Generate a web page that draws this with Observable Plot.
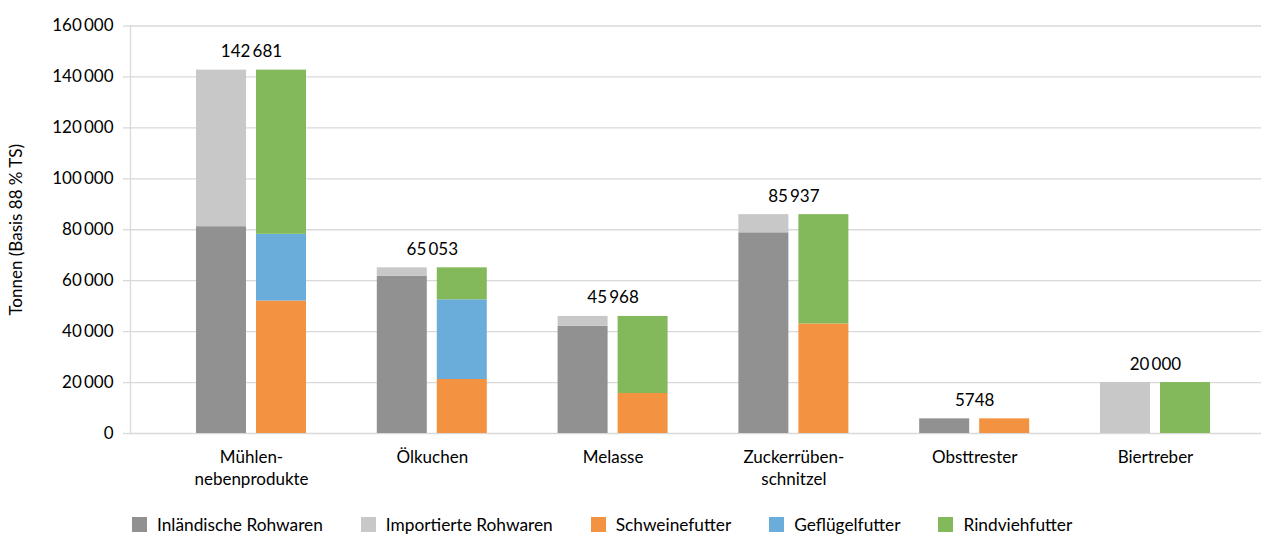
<!DOCTYPE html>
<html>
<head>
<meta charset="utf-8">
<script src="https://cdn.jsdelivr.net/npm/d3@7"></script>
<script src="https://cdn.jsdelivr.net/npm/@observablehq/plot@0.6"></script>
<style>
  body { margin: 0; background: #fff; font-family: Lato, "Open Sans", sans-serif; }
  #chart svg { display: block; }
  .legend { display: flex; align-items: center; padding-left: 132px; padding-top: 10px; height: 19px; font-size: 17.3px; color: #000; }
  .legend .item { display: flex; align-items: center; margin-right: 38px; }
  .legend .sw { width: 15px; height: 15px; margin-right: 10px; }
</style>
</head>
<body>
<div id="chart"></div>
<script>
const categories = ["Mühlen-\nnebenprodukte", "Ölkuchen", "Melasse", "Zuckerrüben-\nschnitzel", "Obsttrester", "Biertreber"];
const totals     = [142681, 65053, 45968, 85937, 5748, 20000];
// Herkunft (left bar)
const inlaendisch = [81200, 61800, 42100, 78800, 5748, 0];
const importiert  = [61481, 3253, 3868, 7137, 0, 20000];
// Verwendung (right bar)
const schwein     = [52000, 21200, 15700, 43000, 5748, 0];
const gefluegel   = [26200, 31300, 0, 0, 0, 0];
const rind        = [64481, 12553, 30268, 42937, 0, 20000];

const seriesNames  = ["Inländische Rohwaren", "Importierte Rohwaren", "Schweinefutter", "Geflügelfutter", "Rindviehfutter"];
const seriesColors = ["#919191", "#c8c8c8", "#f39240", "#6aacda", "#83b95b"];
const yTicks = [0, 20000, 40000, 60000, 80000, 100000, 120000, 140000, 160000];

const fmt = v => {
  const s = String(Math.round(v));
  if (v < 10000) return s;
  return s.replace(/\B(?=(\d{3})+(?!\d))/g, "\u2009");
};

const herkunft = [];
categories.forEach((c, i) => {
  herkunft.push({cat: c, series: seriesNames[0], value: inlaendisch[i]});
  herkunft.push({cat: c, series: seriesNames[1], value: importiert[i]});
});
const verwendung = [];
categories.forEach((c, i) => {
  verwendung.push({cat: c, series: seriesNames[2], value: schwein[i]});
  verwendung.push({cat: c, series: seriesNames[3], value: gefluegel[i]});
  verwendung.push({cat: c, series: seriesNames[4], value: rind[i]});
});

const chart = Plot.plot({
  width: 1261,
  height: 505,
  marginLeft: 130,
  marginRight: 0,
  marginTop: 25.5,
  marginBottom: 72,
  style: {fontFamily: "Lato, 'Open Sans', sans-serif", fontSize: "17px", color: "#000"},
  x: {domain: categories, paddingInner: 0, paddingOuter: 0.1278, align: 0.662, round: false, label: null},
  y: {domain: [0, 160000], label: null},
  color: {domain: seriesNames, range: seriesColors},
  marks: [
    Plot.gridY(yTicks, {stroke: "#d9d9d9", strokeOpacity: 1, strokeWidth: 1.3}),
    Plot.frame({anchor: "left", stroke: "#d9d9d9", strokeWidth: 1.3}),
    Plot.axisY(yTicks, {tickSize: 7, tickPadding: 10, stroke: "#d9d9d9", strokeWidth: 1.3, fill: "#000",
      tickFormat: fmt, fontSize: 17,
      label: "Tonnen (Basis 88 % TS)", labelAnchor: "center", labelArrow: "none", labelOffset: 121}),
    Plot.axisX({tickSize: 0, tickPadding: 14, fontSize: 17, lineHeight: 1.3, fill: "#000", label: null}),
    Plot.barY(herkunft, Plot.stackY({x: "cat", y: "value", fill: "series", insetLeft: 35.4, insetRight: 95.4})),
    Plot.barY(verwendung, Plot.stackY({x: "cat", y: "value", fill: "series", insetLeft: 95.4, insetRight: 35.4})),
    Plot.text(totals, {x: (d, i) => categories[i], y: d => d, text: d => fmt(d), lineAnchor: "bottom", dy: -13, fontSize: 17, fill: "#000"})
  ]
});
document.getElementById("chart").appendChild(chart);

const legend = document.createElement("div");
legend.className = "legend";
seriesNames.forEach((n, i) => {
  const item = document.createElement("div");
  item.className = "item";
  const sw = document.createElement("span");
  sw.className = "sw";
  sw.style.background = seriesColors[i];
  const t = document.createElement("span");
  t.textContent = n;
  item.appendChild(sw);
  item.appendChild(t);
  legend.appendChild(item);
});
document.body.appendChild(legend);
</script>
</body>
</html>
